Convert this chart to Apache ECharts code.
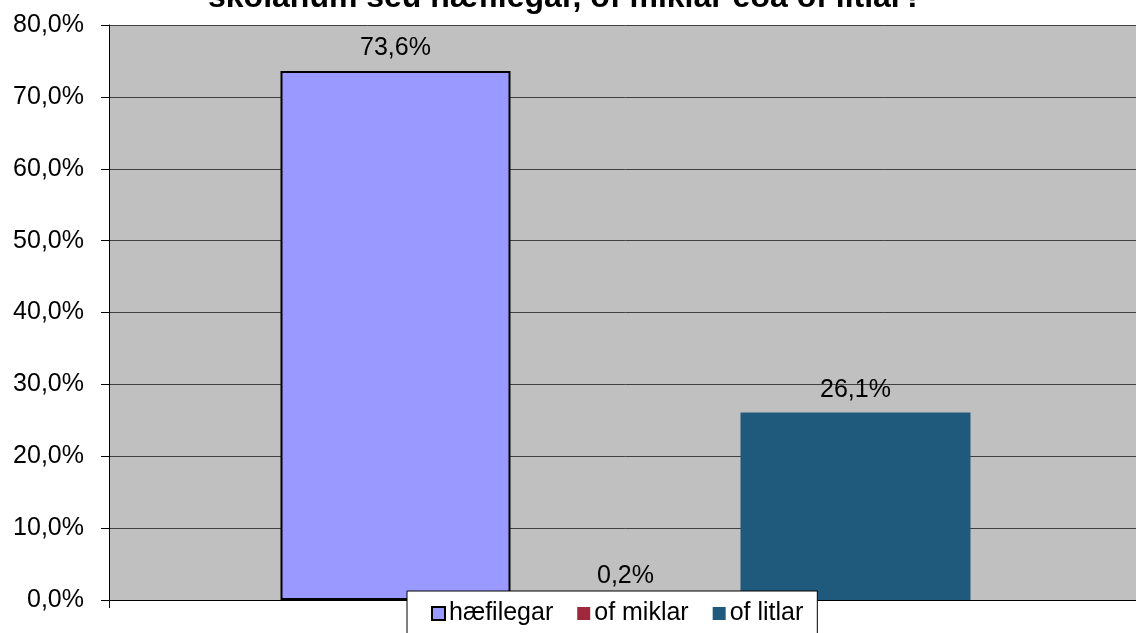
<!DOCTYPE html>
<html>
<head>
<meta charset="utf-8">
<script src="https://cdn.jsdelivr.net/npm/echarts@6/dist/echarts.min.js"></script>
<style>
  html, body { margin: 0; padding: 0; background: #fff; overflow: hidden; }
  #chart { width: 1142px; height: 633px; }
</style>
</head>
<body>
<div id="chart"></div>
<script>
// gögn
const categories = [''];
const seriesNames = ['hæfilegar', 'of miklar', 'of litlar'];
const values = [73.6, 0.2, 26.1];
const colors = ['#9999FF', '#A0283C', '#1F5A7D'];
const yTicks = [0, 10, 20, 30, 40, 50, 60, 70, 80];

const fmt = v => v.toFixed(1).replace('.', ',') + '%';

const chart = echarts.init(document.getElementById('chart'));
const option = {
  animation: false,
  backgroundColor: '#fff',
  textStyle: { fontFamily: 'Arial, "Liberation Sans", sans-serif' },
  title: {
    text: 'skólanum séu hæfilegar, of miklar eða of litlar?',
    left: 208,
    top: -18,
    padding: 0,
    textStyle: { fontSize: 32, fontWeight: 'bold', color: '#000' }
  },
  grid: { left: 109, right: 0, top: 25, bottom: 33, containLabel: false,
    show: true, backgroundColor: '#C0C0C0', borderWidth: 0 },
  legend: {
    left: 407, top: 591,
    padding: [10, 14, 14, 24],
    itemGap: 24, itemWidth: 13, itemHeight: 13,
    icon: 'rect',
    backgroundColor: '#fff', borderColor: '#000', borderWidth: 1,
    textStyle: { fontSize: 25, color: '#000', padding: [0, 0, 0, -1] },
    data: seriesNames
  },
  xAxis: {
    type: 'category',
    data: categories,
    axisLine: { lineStyle: { color: '#000', width: 1 } },
    axisTick: { show: true, length: 8, lineStyle: { color: '#000' } },
    axisLabel: { show: false }
  },
  yAxis: {
    type: 'value',
    min: yTicks[0], max: yTicks[yTicks.length - 1], interval: 10,
    axisLine: { show: true, lineStyle: { color: '#000', width: 1 } },
    axisTick: { show: true, length: 8, lineStyle: { color: '#000' } },
    axisLabel: { fontSize: 25, color: '#000', margin: 25, formatter: fmt },
    splitLine: { lineStyle: { color: '#404040', width: 1 } }
  },
  series: seriesNames.map((name, i) => ({
    name: name,
    type: 'bar',
    data: [values[i]],
    barWidth: 230,
    barGap: '0%',
    itemStyle: i === 0
      ? { color: colors[i], borderColor: '#000', borderWidth: 2 }
      : { color: colors[i] },
    label: {
      show: true, position: 'top', distance: 10,
      fontSize: 25, color: '#000',
      formatter: p => fmt(p.value)
    }
  }))
};
chart.setOption(option);
</script>
</body>
</html>
